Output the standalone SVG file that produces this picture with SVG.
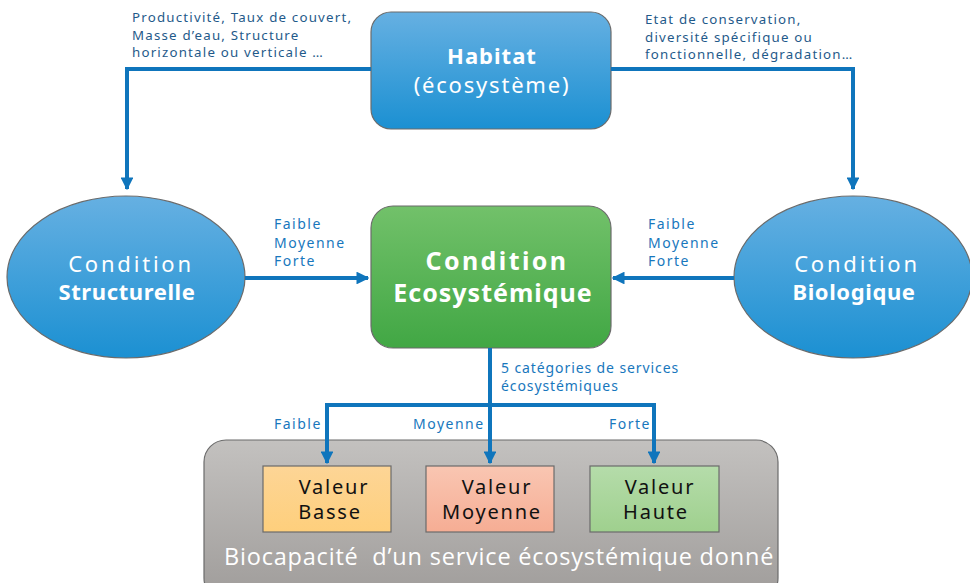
<svg xmlns="http://www.w3.org/2000/svg" width="970" height="583" viewBox="0 0 970 583">
<defs>
<linearGradient id="gBlue" x1="0" y1="0" x2="0" y2="1"><stop offset="0" stop-color="#66b0e2"/><stop offset="1" stop-color="#1b90d2"/></linearGradient>
<linearGradient id="gGreen" x1="0" y1="0" x2="0" y2="1"><stop offset="0" stop-color="#72c16a"/><stop offset="1" stop-color="#41a744"/></linearGradient>
<linearGradient id="gGray" x1="0" y1="0" x2="0" y2="1"><stop offset="0" stop-color="#c3c1bf"/><stop offset="1" stop-color="#9f9c9a"/></linearGradient>
<linearGradient id="gOrange" x1="0" y1="0" x2="0" y2="1"><stop offset="0" stop-color="#fdd596"/><stop offset="1" stop-color="#fecf7c"/></linearGradient>
<linearGradient id="gPink" x1="0" y1="0" x2="0" y2="1"><stop offset="0" stop-color="#f9c6b2"/><stop offset="1" stop-color="#f6ad94"/></linearGradient>
<linearGradient id="gLGreen" x1="0" y1="0" x2="0" y2="1"><stop offset="0" stop-color="#b5dcaa"/><stop offset="1" stop-color="#9fd08e"/></linearGradient>
<marker id="arr" viewBox="0 0 10 10" refX="9" refY="5" markerWidth="3.2" markerHeight="3.2" orient="auto" markerUnits="strokeWidth">
<path d="M0,0 L10,5 L0,10 z" fill="#0f75bc"/>
</marker>
</defs>
<style>
.conn{fill:none;stroke:#0f75bc;stroke-width:4}
.lbl{font-family:"Noto Sans","Open Sans",sans-serif;font-size:13.3px;fill:#1f5a8a;letter-spacing:1.2px}
.lblb{font-family:"Noto Sans","Open Sans",sans-serif;font-size:14px;fill:#1877bd;letter-spacing:1.5px}
.wt{font-family:"Noto Sans","Open Sans",sans-serif;fill:#ffffff;text-anchor:middle}
.bk{font-family:"Noto Sans","Open Sans",sans-serif;fill:#111111;text-anchor:middle;font-size:20px;letter-spacing:1.8px}
.box{stroke:#6b6b6b;stroke-width:1.2}
</style>

<g id="labels">
<text class="lbl" x="132" y="22">Productivité, Taux de couvert,</text>
<text class="lbl" x="132" y="39.5">Masse d’eau, Structure</text>
<text class="lbl" x="132" y="57">horizontale ou verticale …</text>
<text class="lbl" x="645" y="24">Etat de conservation,</text>
<text class="lbl" x="645" y="41.5">diversité spécifique ou</text>
<text class="lbl" x="645" y="59">fonctionnelle, dégradation…</text>
<text class="lblb" x="274" y="229">Faible</text>
<text class="lblb" x="274" y="247.5">Moyenne</text>
<text class="lblb" x="274" y="266">Forte</text>
<text class="lblb" x="648" y="229">Faible</text>
<text class="lblb" x="648" y="247.5">Moyenne</text>
<text class="lblb" x="648" y="266">Forte</text>
<text class="lblb" x="501" y="373" style="letter-spacing:0.9px">5 catégories de services</text>
<text class="lblb" x="501" y="391" style="letter-spacing:0.9px">écosystémiques</text>
<text class="lblb" x="274" y="429">Faible</text>
<text class="lblb" x="413" y="429">Moyenne</text>
<text class="lblb" x="609" y="429">Forte</text>
</g>

<g id="habitat">
<rect class="box" x="371" y="12" width="240" height="117" rx="20" fill="url(#gBlue)"/>
<text class="wt" x="492" y="64" font-size="22" font-weight="bold" letter-spacing="1">Habitat</text>
<text class="wt" x="492" y="93" font-size="22" letter-spacing="1.8">(écosystème)</text>
</g>

<g id="cond-structurelle">
<ellipse class="box" cx="126" cy="277" rx="119" ry="81" fill="url(#gBlue)"/>
<text class="wt" x="131" y="272" font-size="22" letter-spacing="2.8">Condition</text>
<text class="wt" x="127" y="300" font-size="22" font-weight="bold" letter-spacing="0.6">Structurelle</text>
</g>

<g id="cond-biologique">
<ellipse class="box" cx="853" cy="277" rx="119" ry="81" fill="url(#gBlue)"/>
<text class="wt" x="857" y="272" font-size="22" letter-spacing="2.8">Condition</text>
<text class="wt" x="854" y="300" font-size="22" font-weight="bold" letter-spacing="0.6">Biologique</text>
</g>

<g id="cond-eco">
<rect class="box" x="371" y="206" width="240" height="142" rx="22" fill="url(#gGreen)"/>
<text class="wt" x="497" y="270" font-size="25" font-weight="bold" letter-spacing="2.4">Condition</text>
<text class="wt" x="493" y="302" font-size="25" font-weight="bold" letter-spacing="1">Ecosystémique</text>
</g>

<g id="biocapacite">
<rect class="box" x="204" y="440" width="574" height="160" rx="22" fill="url(#gGray)"/>
<text x="224" y="565" font-family="'Open Sans','Noto Sans',sans-serif" font-size="23.5" letter-spacing="0.8" fill="#ffffff" style="white-space:pre">Biocapacité  d’un service écosystémique donné</text>
</g>

<g id="valeur-basse">
<rect class="box" x="263" y="466" width="128" height="66" fill="url(#gOrange)"/>
<text class="bk" x="334" y="494">Valeur</text>
<text class="bk" x="330" y="519">Basse</text>
</g>

<g id="valeur-moyenne">
<rect class="box" x="426" y="466" width="128" height="66" fill="url(#gPink)"/>
<text class="bk" x="497" y="494">Valeur</text>
<text class="bk" x="492" y="519">Moyenne</text>
</g>

<g id="valeur-haute">
<rect class="box" x="590" y="466" width="129" height="66" fill="url(#gLGreen)"/>
<text class="bk" x="660" y="494">Valeur</text>
<text class="bk" x="656" y="519">Haute</text>
</g>

<g id="connectors">
<path class="conn" d="M371,69 H127 V189" marker-end="url(#arr)"/>
<path class="conn" d="M611,69 H853 V189" marker-end="url(#arr)"/>
<path class="conn" d="M245,278 H368" marker-end="url(#arr)"/>
<path class="conn" d="M734,278 H613" marker-end="url(#arr)"/>
<path class="conn" d="M490,348 V463" marker-end="url(#arr)"/>
<path class="conn" d="M327,405 V463" marker-end="url(#arr)"/>
<path class="conn" d="M654,405 V463" marker-end="url(#arr)"/>
<path class="conn" d="M325,405 H656"/>
</g>
</svg>
